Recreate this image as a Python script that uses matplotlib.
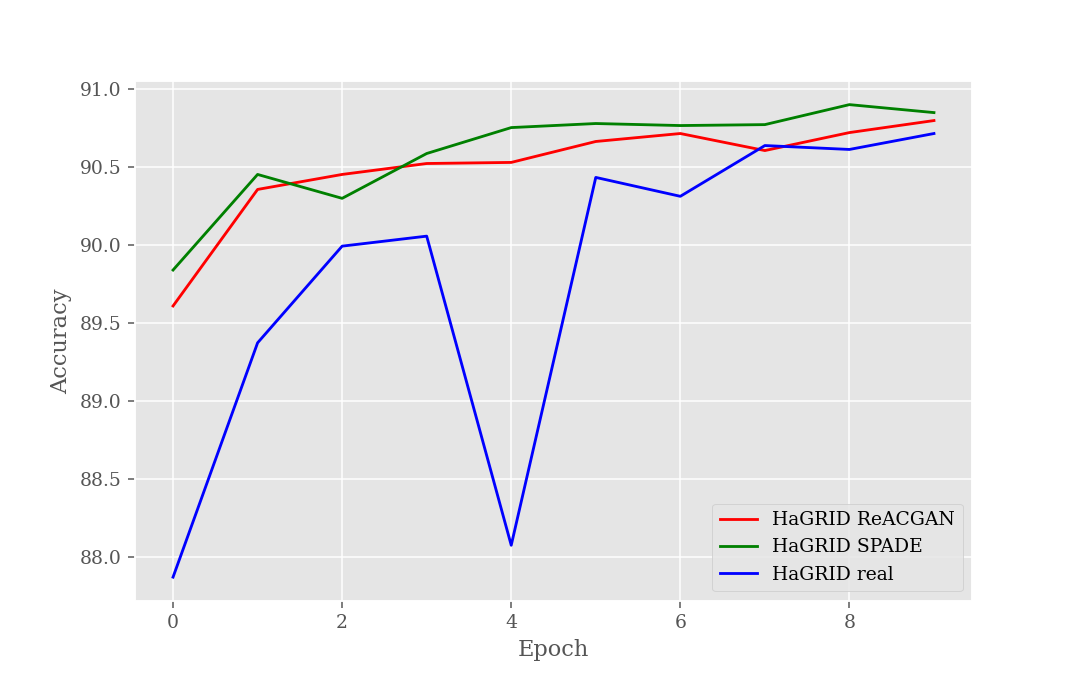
import matplotlib
matplotlib.use("Agg")
import matplotlib.pyplot as plt

plt.style.use("ggplot")
plt.rcParams['font.family'] = ['DejaVu Serif']

epochs = list(range(10))
reacgan = [89.609, 90.355, 90.451, 90.521, 90.528, 90.662, 90.713, 90.604, 90.719, 90.796]
spade = [89.839, 90.451, 90.298, 90.585, 90.751, 90.777, 90.764, 90.770, 90.898, 90.847]
real = [87.873, 89.373, 89.992, 90.056, 88.077, 90.432, 90.311, 90.636, 90.611, 90.713]

fig, ax = plt.subplots(figsize=(8, 5), dpi=135)
ax.plot(epochs, reacgan, color="red", label="HaGRID ReACGAN")
ax.plot(epochs, spade, color="green", label="HaGRID SPADE")
ax.plot(epochs, real, color="blue", label="HaGRID real")
ax.set_xlabel("Epoch")
ax.set_ylabel("Accuracy")
ax.legend(loc="lower right")
fig.savefig("out.png")
